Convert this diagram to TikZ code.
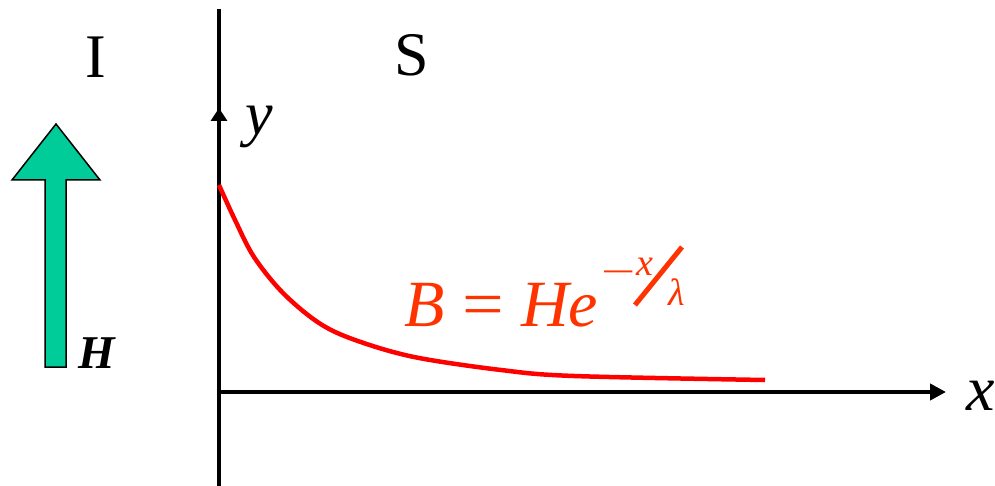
\documentclass[tikz,border=0pt]{standalone}
\usepackage{fontspec}
\setmainfont{Liberation Serif}
\usetikzlibrary{arrows.meta}
\definecolor{arrowgreen}{HTML}{00CC99}
\definecolor{formred}{HTML}{FF3300}
\definecolor{curvered}{HTML}{FF0000}
\begin{document}
\begin{tikzpicture}[x=1pt,y=-1pt,
  lbl/.style={inner sep=0pt, outer sep=0pt, anchor=base, font=\fontsize{62}{62}\selectfont},
  axisline/.style={line width=4pt},
  form/.style={inner sep=0pt, outer sep=0pt, anchor=base west, text=formred, font=\fontsize{66}{66}\selectfont\itshape},
  supf/.style={inner sep=0pt, outer sep=0pt, anchor=base, text=formred, font=\fontsize{38}{38}\selectfont\itshape}]
\useasboundingbox (0,0) rectangle (995,486);
% axes
\coordinate (O) at (217,392);
\coordinate (ybot) at (219,486);
\coordinate (ymid) at (219,108);
\coordinate (ytop) at (219,9);
\coordinate (xend) at (946,392);
\draw[axisline] (ybot) -- (ytop);
\draw[axisline, -{Triangle[length=13pt,width=16pt]}] (ybot) -- (ymid);
\draw[axisline, -{Triangle[length=16pt,width=16pt]}] (O) -- (xend);
% curve
\draw[curvered, line width=4.5pt] plot[smooth, tension=0.55] coordinates {(219,185) (235,220) (254,257) (283,293) (319,323) (355,340) (414,357) (501,370) (574,376) (765,380)};
% green arrow
\draw[fill=arrowgreen, line width=1.5pt, line join=miter] (45,367) -- (66,367) -- (66,180) -- (100,180) -- (56,124) -- (12,180) -- (45,180) -- cycle;
% labels
\node[lbl] (I) at (96,78) {I};
\node[lbl] (S) at (412,76) {S};
\node[lbl, font=\fontsize{62}{62}\selectfont\itshape] (ylab) at (259,135) {y};
\node[lbl, font=\fontsize{64}{64}\selectfont\itshape] (xlab) at (981,410) {x};
\node[lbl, font=\fontsize{47}{47}\selectfont\bfseries\itshape] (Hlab) at (97,368) {H};
% formula
\node[form] (B) at (404,326) {B};
\node[form, anchor=base, font=\fontsize{66}{66}\selectfont] (eq) at (483.5,326) {\scalebox{1.12}[1]{=}};
\node[form] (He) at (521,326) {He};
\node[supf, font=\fontsize{38}{38}\selectfont] (minus) at (619,284) {\scalebox{1.6}[1]{−}};
\node[supf] (sx) at (645,276) {x};
\draw[formred, line width=5pt] (635,305) -- (682,247);
\node[supf] (lam) at (677,305) {λ};
\end{tikzpicture}
\end{document}
